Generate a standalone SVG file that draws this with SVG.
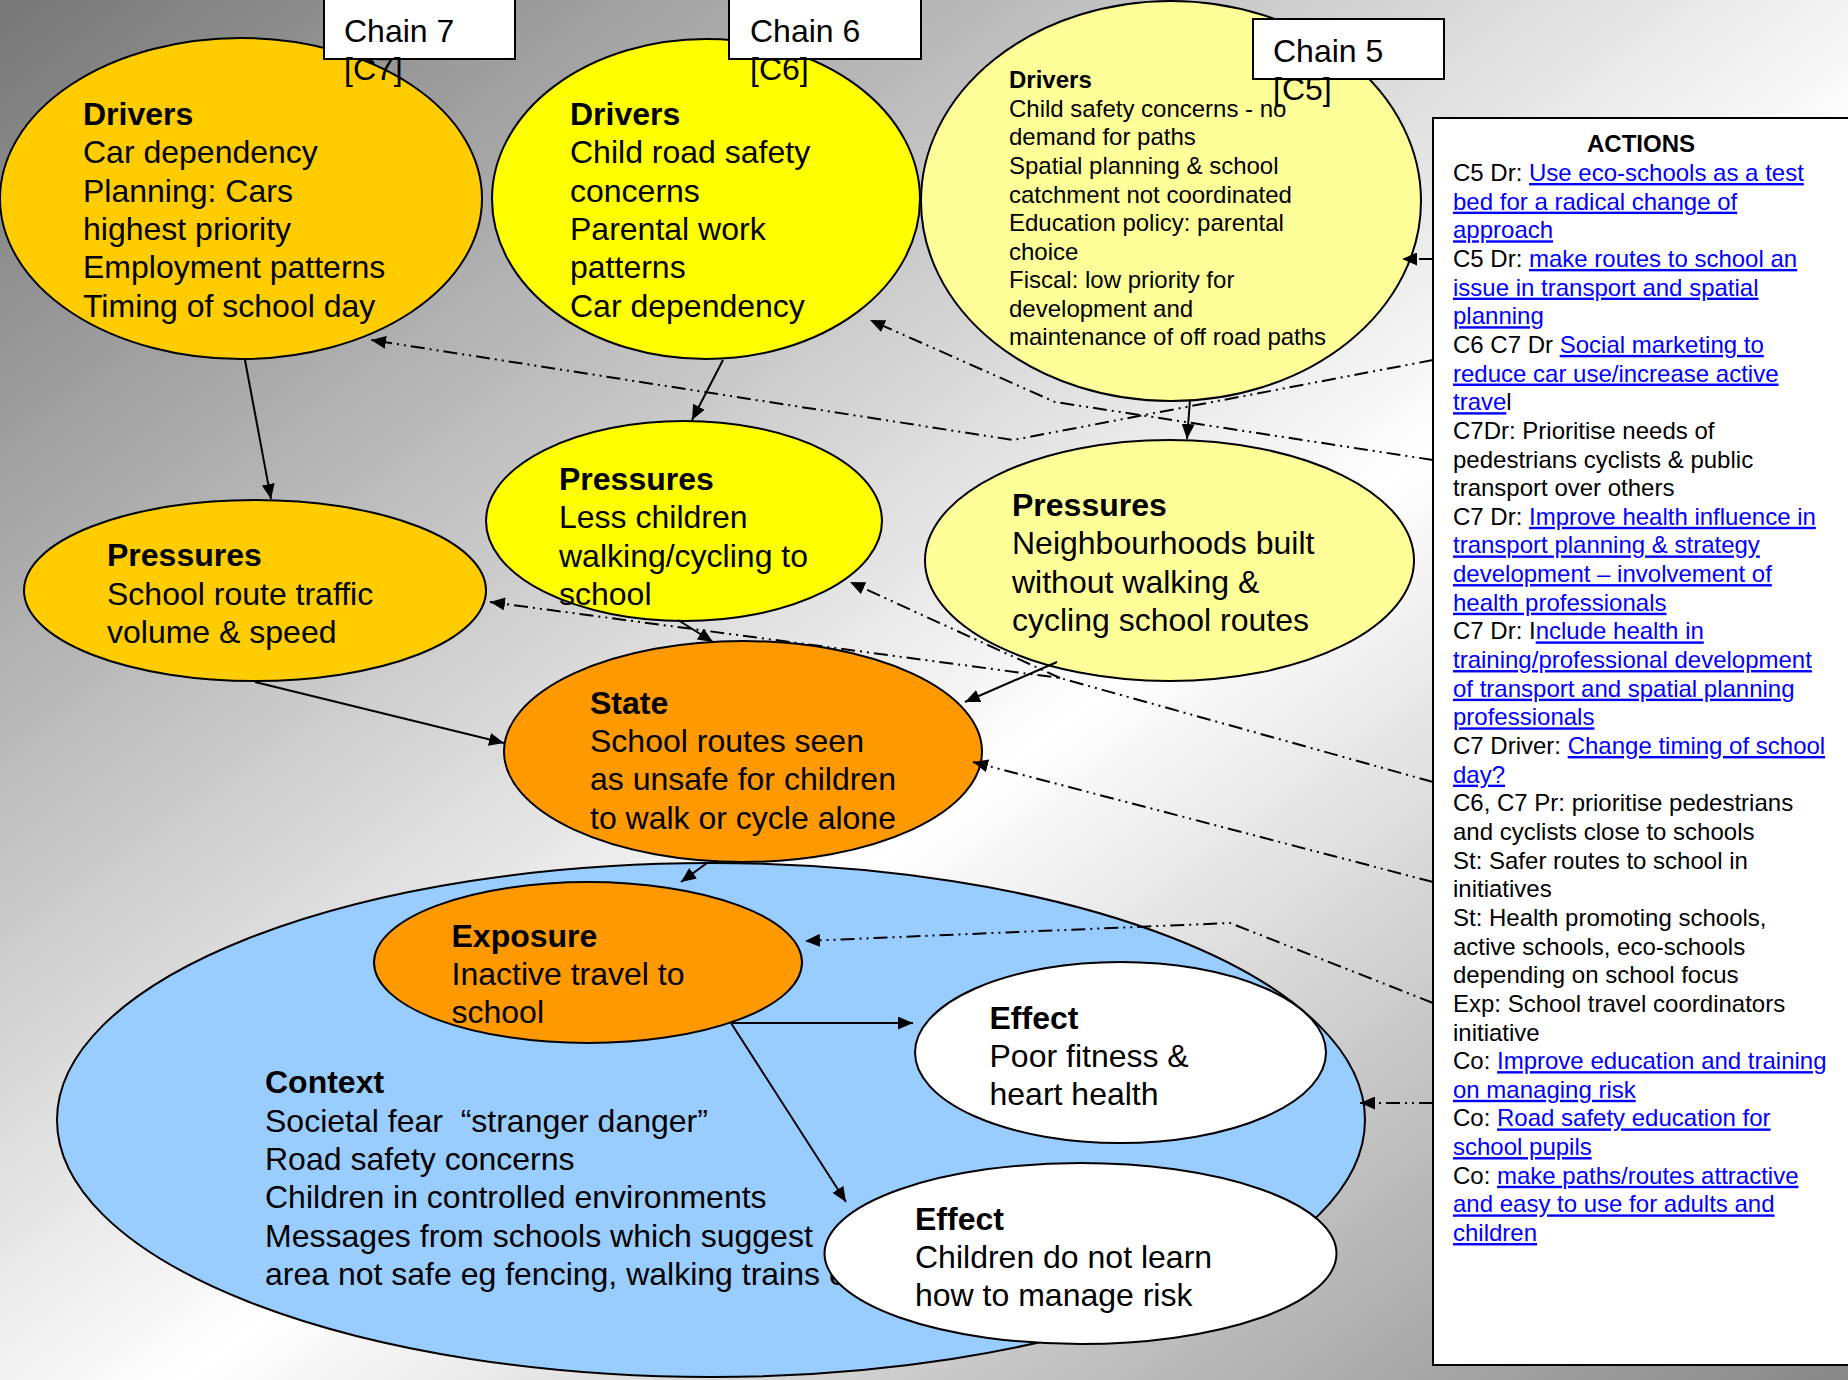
<svg xmlns="http://www.w3.org/2000/svg" width="1848" height="1380" viewBox="0 0 1848 1380">
<defs>
<linearGradient id="bgGrad" x1="0" y1="0" x2="1" y2="1">
<stop offset="0" stop-color="#777777"/>
<stop offset="0.55" stop-color="#ffffff"/>
<stop offset="1" stop-color="#888888"/>
</linearGradient>
<marker id="arr" markerUnits="userSpaceOnUse" viewBox="0 0 15 13" refX="15" refY="6.5" markerWidth="15" markerHeight="13" orient="auto">
<path d="M0,0 L15,6.5 L0,13 z" fill="#000"/>
</marker>
</defs>
<style>
.node ellipse{stroke:#000;stroke-width:2}
.box rect{fill:#fff;stroke:#000;stroke-width:2}
text{font-family:"Liberation Sans",Arial,sans-serif;font-size:32px;fill:#000}
.b{font-weight:bold}
.s{font-size:24px}
.lk{fill:#0000ff;text-decoration:underline}
.conn path{fill:none;stroke:#000;stroke-width:2}
.conn .dd{stroke-dasharray:14 5 2 5 2 5}
</style>
<rect x="0" y="0" width="1848" height="1380" fill="url(#bgGrad)"/>

<g id="c5-drivers" class="node">
<ellipse cx="1171" cy="201" rx="250" ry="200" fill="#ffff99"/>
<text class="s b" x="1009" y="88">Drivers</text>
<text class="s" x="1009" y="116.5">Child safety concerns - no</text>
<text class="s" x="1009" y="145">demand for paths</text>
<text class="s" x="1009" y="174">Spatial planning &amp; school</text>
<text class="s" x="1009" y="202.5">catchment not coordinated</text>
<text class="s" x="1009" y="231">Education policy: parental</text>
<text class="s" x="1009" y="259.5">choice</text>
<text class="s" x="1009" y="288">Fiscal: low priority for</text>
<text class="s" x="1009" y="316.5">development and</text>
<text class="s" x="1009" y="345">maintenance of off road paths</text>
</g>

<g id="c7-drivers" class="node">
<ellipse cx="241" cy="198.5" rx="241" ry="160.5" fill="#ffcc00"/>
<text class="b" x="83" y="125">Drivers</text>
<text x="83" y="163">Car dependency</text>
<text x="83" y="201.5">Planning: Cars</text>
<text x="83" y="239.5">highest priority</text>
<text x="83" y="278">Employment patterns</text>
<text x="83" y="316.5">Timing of school day</text>
</g>

<g id="c6-drivers" class="node">
<ellipse cx="706" cy="199" rx="214" ry="160" fill="#ffff00"/>
<text class="b" x="570" y="125">Drivers</text>
<text x="570" y="163">Child road safety</text>
<text x="570" y="201.5">concerns</text>
<text x="570" y="239.5">Parental work</text>
<text x="570" y="278">patterns</text>
<text x="570" y="316.5">Car dependency</text>
</g>

<g id="chain7" class="box">
<rect x="324" y="-2" width="191" height="61"/>
<text x="344" y="42">Chain 7</text>
<text x="344" y="80">[C7]</text>
</g>
<g id="chain6" class="box">
<rect x="729" y="-2" width="192" height="61"/>
<text x="750" y="42">Chain 6</text>
<text x="750" y="80">[C6]</text>
</g>
<g id="chain5" class="box">
<rect x="1253" y="19" width="191" height="60"/>
<text x="1273" y="62">Chain 5</text>
<text x="1273" y="100">[C5]</text>
</g>

<g id="c7-pressures" class="node">
<ellipse cx="255" cy="590.5" rx="231" ry="90.5" fill="#ffcc00"/>
<text class="b" x="107" y="566">Pressures</text>
<text x="107" y="604.5">School route traffic</text>
<text x="107" y="643">volume &amp; speed</text>
</g>

<g id="c6-pressures" class="node">
<ellipse cx="684" cy="521" rx="198" ry="100" fill="#ffff00"/>
<text class="b" x="559" y="489.5">Pressures</text>
<text x="559" y="528">Less children</text>
<text x="559" y="566.5">walking/cycling to</text>
<text x="559" y="605">school</text>
</g>

<g id="c5-pressures" class="node">
<ellipse cx="1169.5" cy="560.5" rx="244.5" ry="120.5" fill="#ffff99"/>
<text class="b" x="1012" y="515.5">Pressures</text>
<text x="1012" y="554">Neighbourhoods built</text>
<text x="1012" y="592.5">without walking &amp;</text>
<text x="1012" y="631">cycling school routes</text>
</g>

<g id="state" class="node">
<ellipse cx="743" cy="751.5" rx="239" ry="110.5" fill="#ff9900"/>
<text class="b" x="590" y="713.5">State</text>
<text x="590" y="752">School routes seen</text>
<text x="590" y="790">as unsafe for children</text>
<text x="590" y="828.5">to walk or cycle alone</text>
</g>

<g id="context" class="node">
<ellipse cx="711" cy="1120" rx="654" ry="257" fill="#99ccff"/>
<text class="b" x="265" y="1093">Context</text>
<text x="265" y="1131.5">Societal fear&#160; “stranger danger”</text>
<text x="265" y="1170">Road safety concerns</text>
<text x="265" y="1208">Children in controlled environments</text>
<text x="265" y="1246.5">Messages from schools which suggest</text>
<text x="265" y="1285">area not safe eg fencing, walking trains etc</text>
</g>

<g id="exposure" class="node">
<ellipse cx="588" cy="962.5" rx="214" ry="80.5" fill="#ff9900"/>
<text class="b" x="451.5" y="946.5">Exposure</text>
<text x="451.5" y="984.5">Inactive travel to</text>
<text x="451.5" y="1022.5">school</text>
</g>

<g id="effect-fitness" class="node">
<ellipse cx="1120.5" cy="1052.5" rx="205.5" ry="90.5" fill="#ffffff"/>
<text class="b" x="989.5" y="1029">Effect</text>
<text x="989.5" y="1067">Poor fitness &amp;</text>
<text x="989.5" y="1105">heart health</text>
</g>

<g id="effect-risk" class="node">
<ellipse cx="1080.5" cy="1253.5" rx="256" ry="90.5" fill="#ffffff"/>
<text class="b" x="915" y="1229.5">Effect</text>
<text x="915" y="1267.5">Children do not learn</text>
<text x="915" y="1305.5">how to manage risk</text>
</g>

<g id="actions" class="box">
<rect x="1433" y="118" width="430" height="1247" stroke-width="2.5"/>
<text class="s b" x="1641" y="152" text-anchor="middle">ACTIONS</text>
<text class="s" x="1453" y="181">C5 Dr: <tspan class="lk">Use eco-schools as a test</tspan></text>
<text class="s" x="1453" y="209.65"><tspan class="lk">bed for a radical change of</tspan></text>
<text class="s" x="1453" y="238.3"><tspan class="lk">approach</tspan></text>
<text class="s" x="1453" y="266.95">C5 Dr: <tspan class="lk">make routes to school an</tspan></text>
<text class="s" x="1453" y="295.6"><tspan class="lk">issue in transport and spatial</tspan></text>
<text class="s" x="1453" y="324.25"><tspan class="lk">planning</tspan></text>
<text class="s" x="1453" y="352.9">C6 C7 Dr <tspan class="lk">Social marketing to</tspan></text>
<text class="s" x="1453" y="381.55"><tspan class="lk">reduce car use/increase active</tspan></text>
<text class="s" x="1453" y="410.2"><tspan class="lk">trave</tspan>l</text>
<text class="s" x="1453" y="438.85">C7Dr: Prioritise needs of</text>
<text class="s" x="1453" y="467.5">pedestrians cyclists &amp; public</text>
<text class="s" x="1453" y="496.15">transport over others</text>
<text class="s" x="1453" y="524.8">C7 Dr: <tspan class="lk">Improve health influence in</tspan></text>
<text class="s" x="1453" y="553.45"><tspan class="lk">transport planning &amp; strategy</tspan></text>
<text class="s" x="1453" y="582.1"><tspan class="lk">development – involvement of</tspan></text>
<text class="s" x="1453" y="610.75"><tspan class="lk">health professionals</tspan></text>
<text class="s" x="1453" y="639.4">C7 Dr: I<tspan class="lk">nclude health in</tspan></text>
<text class="s" x="1453" y="668.05"><tspan class="lk">training/professional development</tspan></text>
<text class="s" x="1453" y="696.7"><tspan class="lk">of transport and spatial planning</tspan></text>
<text class="s" x="1453" y="725.35"><tspan class="lk">professionals</tspan></text>
<text class="s" x="1453" y="754">C7 Driver: <tspan class="lk">Change timing of school</tspan></text>
<text class="s" x="1453" y="782.65"><tspan class="lk">day?</tspan></text>
<text class="s" x="1453" y="811.3">C6, C7 Pr: prioritise pedestrians</text>
<text class="s" x="1453" y="839.95">and cyclists close to schools</text>
<text class="s" x="1453" y="868.6">St: Safer routes to school in</text>
<text class="s" x="1453" y="897.25">initiatives</text>
<text class="s" x="1453" y="925.9">St: Health promoting schools,</text>
<text class="s" x="1453" y="954.55">active schools, eco-schools</text>
<text class="s" x="1453" y="983.2">depending on school focus</text>
<text class="s" x="1453" y="1011.85">Exp: School travel coordinators</text>
<text class="s" x="1453" y="1040.5">initiative</text>
<text class="s" x="1453" y="1069.15">Co: <tspan class="lk">Improve education and training</tspan></text>
<text class="s" x="1453" y="1097.8"><tspan class="lk">on managing risk</tspan></text>
<text class="s" x="1453" y="1126.45">Co: <tspan class="lk">Road safety education for</tspan></text>
<text class="s" x="1453" y="1155.1"><tspan class="lk">school pupils</tspan></text>
<text class="s" x="1453" y="1183.75">Co: <tspan class="lk">make paths/routes attractive</tspan></text>
<text class="s" x="1453" y="1212.4"><tspan class="lk">and easy to use for adults and</tspan></text>
<text class="s" x="1453" y="1241.05"><tspan class="lk">children</tspan></text>
</g>

<g id="connectors" class="conn">
<path d="M245,360 L271,499" marker-end="url(#arr)"/>
<path d="M723,360 L692,420" marker-end="url(#arr)"/>
<path d="M1190,400 L1187,439" marker-end="url(#arr)"/>
<path d="M255,682 L504,743" marker-end="url(#arr)"/>
<path d="M678,620 L713,642" marker-end="url(#arr)"/>
<path d="M1057,662 L965,702" marker-end="url(#arr)"/>
<path d="M707,863 L681,882" marker-end="url(#arr)"/>
<path d="M731,1023 L913,1023" marker-end="url(#arr)"/>
<path d="M731,1023 L846,1202" marker-end="url(#arr)"/>
<path class="dd" d="M1433,259 L1402,259" marker-end="url(#arr)"/>
<path class="dd" d="M1433,360 L1013,440 L371,340" marker-end="url(#arr)"/>
<path class="dd" d="M1433,460 L1055,402 L870,320" marker-end="url(#arr)"/>
<path class="dd" d="M1433,782 L1060,678 L490,602" marker-end="url(#arr)"/>
<path class="dd" d="M1060,678 L850,582" marker-end="url(#arr)"/>
<path class="dd" d="M1433,882 L973,762" marker-end="url(#arr)"/>
<path class="dd" d="M1433,1003 L1230,923 L805,941" marker-end="url(#arr)"/>
<path class="dd" d="M1433,1103 L1360,1103" marker-end="url(#arr)"/>
</g>
</svg>
